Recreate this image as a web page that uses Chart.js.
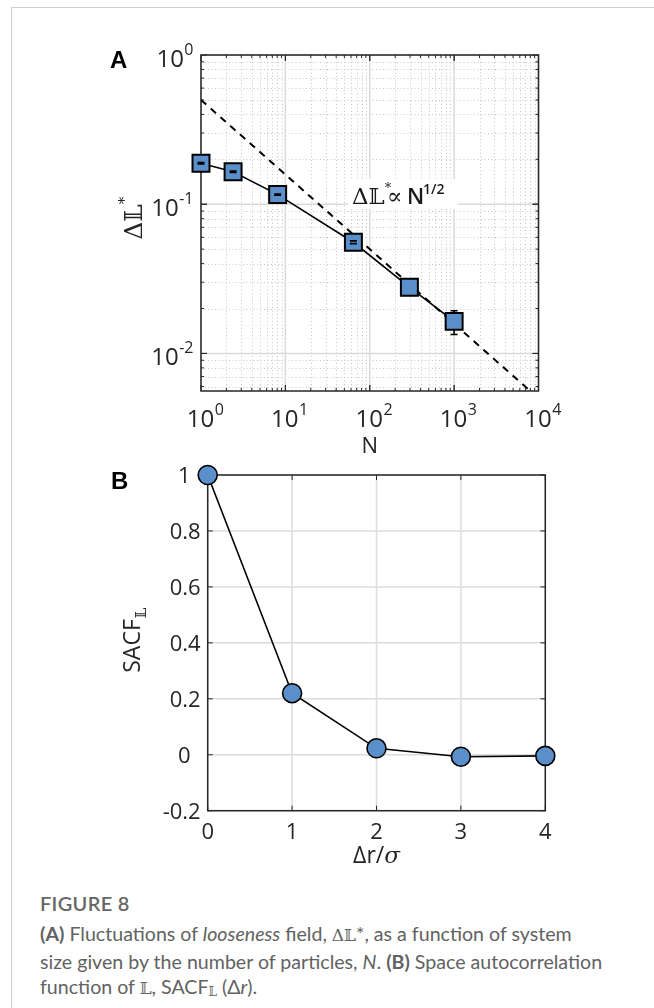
<!DOCTYPE html>
<html>
<head>
<meta charset="utf-8">
<script src="https://cdn.jsdelivr.net/npm/chart.js@4.4.1/dist/chart.umd.min.js"></script>
<style>
  body { margin: 0; background: #fff; width: 654px; height: 1008px; position: relative; overflow: hidden; font-family: "Open Sans", sans-serif; }
  #frame { position: absolute; left: 11px; top: 7px; right: -5px; bottom: -5px; border-top: 1.5px solid #cfcfcf; border-left: 1.5px solid #cfcfcf; }
  canvas { position: absolute; left: 0; }
  #chartA { top: 0; }
  #chartB { top: 460px; }
  .caption { position: absolute; left: 40px; color: #626262; white-space: nowrap; font-family: Lato, "Open Sans", sans-serif; }
  #figTitle { top: 891px; font-size: 20px; line-height: 24px; letter-spacing: 0.3px; font-weight: 600; color: #666; }
  #figText { top: 921px; font-size: 19.6px; line-height: 25.5px; }
  .math { font-family: "DejaVu Serif", serif; font-size: 17px; }
  .sub { font-family: "DejaVu Serif", serif; font-size: 12px; position: relative; top: 2px; }
</style>
</head>
<body>
<div id="frame"></div>
<canvas id="chartA" width="654" height="460"></canvas>
<canvas id="chartB" width="654" height="420"></canvas>
<div class="caption" id="figTitle">FIGURE 8</div>
<div class="caption" id="figText">
  <div><b>(A)</b> Fluctuations of <i>looseness</i> field, <span class="math">Δ𝕃</span>*, as a function of system</div>
  <div>size given by the number of particles, <i>N</i>. <b>(B)</b> Space autocorrelation</div>
  <div>function of <span class="math">𝕃</span>, SACF<span class="sub">𝕃</span> (Δ<i>r</i>).</div>
</div>

<script>
// Panel A: fluctuations vs system size (log-log)
const nValues = [1, 2.4, 8.1, 64, 295, 1000];
const deltaL = [0.188, 0.165, 0.116, 0.0556, 0.0278, 0.0164];
const errLow = [0.186, 0.163, 0.115, 0.0544, 0.0278, 0.0134];
const errHigh = [0.190, 0.167, 0.117, 0.0568, 0.0278, 0.0193];
// guide line  dL ~ N^-1/2
const fitN = [1, 10000];
const fitL = [0.5, 0.005];
const xDecades = [0, 1, 2, 3, 4];
const yDecades = [0, -1, -2];

// Panel B: space autocorrelation
const sepValues = [0, 1, 2, 3, 4];
const sacfValues = [1, 0.22, 0.023, -0.007, -0.004];
const xTicksB = [0, 1, 2, 3, 4];
const yTicksB = [-0.2, 0, 0.2, 0.4, 0.6, 0.8, 1];

const AXIS = "#262626";
const TICK_FONT = "22px 'Open Sans'";
const POW_FONT = "24px 'Open Sans'";
const SUP_FONT = "16px 'Open Sans'";
const LETTER_FONT = "bold 24px Arial, 'Liberation Sans'";
const MARKER = "#5b8fca";

// draws "10" with a raised exponent
function drawPow(ctx, exp, x, base, align) {
  const e = String(exp);
  ctx.font = POW_FONT;
  const w1 = ctx.measureText("10").width;
  ctx.font = SUP_FONT;
  const w2 = ctx.measureText(e).width;
  let start = x;
  if (align === "center") start = x - (w1 + w2) / 2;
  if (align === "right") start = x - (w1 + w2);
  ctx.textAlign = "left";
  ctx.textBaseline = "alphabetic";
  ctx.font = POW_FONT;
  ctx.fillText("10", start, base);
  ctx.font = SUP_FONT;
  ctx.fillText(e, start + w1 + 0.5, base - 12);
}

const panelA = {
  id: "panelA",
  beforeDatasetsDraw(chart) {
    const { ctx, chartArea: a, scales } = chart;
    const xs = scales.x, ys = scales.y;
    ctx.save();
    // minor grid (dotted)
    ctx.strokeStyle = "#c6c6c6";
    ctx.lineWidth = 1;
    ctx.setLineDash([1, 2.5]);
    for (let d = 0; d < 4; d++) {
      for (let m = 2; m <= 9; m++) {
        const px = Math.round(xs.getPixelForValue(m * Math.pow(10, d))) + 0.5;
        ctx.beginPath(); ctx.moveTo(px, a.top); ctx.lineTo(px, a.bottom); ctx.stroke();
      }
    }
    for (let d = -3; d < 0; d++) {
      for (let m = 2; m <= 9; m++) {
        const v = m * Math.pow(10, d);
        if (v <= ys.min || v >= ys.max) continue;
        const py = Math.round(ys.getPixelForValue(v)) + 0.5;
        ctx.beginPath(); ctx.moveTo(a.left, py); ctx.lineTo(a.right, py); ctx.stroke();
      }
    }
    // major grid
    ctx.setLineDash([]);
    ctx.strokeStyle = "#dadada";
    ctx.lineWidth = 1.5;
    xDecades.forEach(e => {
      const px = xs.getPixelForValue(Math.pow(10, e));
      ctx.beginPath(); ctx.moveTo(px, a.top); ctx.lineTo(px, a.bottom); ctx.stroke();
    });
    yDecades.forEach(e => {
      const py = ys.getPixelForValue(Math.pow(10, e));
      ctx.beginPath(); ctx.moveTo(a.left, py); ctx.lineTo(a.right, py); ctx.stroke();
    });
    // annotation with white background
    ctx.fillStyle = "#fff";
    ctx.fillRect(348, 179, 110, 30);
    ctx.fillStyle = "#1a1a1a";
    ctx.textBaseline = "alphabetic";
    ctx.textAlign = "left";
    ctx.font = "23px 'DejaVu Serif'";
    ctx.fillText("Δ𝕃", 352, 204);
    const w = ctx.measureText("Δ𝕃").width;
    ctx.font = "13px 'DejaVu Serif'";
    ctx.fillText("*", 352 + w, 192);
    ctx.font = "23px 'DejaVu Serif'";
    ctx.fillText("∝", 387, 204);
    ctx.font = "600 22px 'Open Sans'";
    ctx.fillText("N", 407, 204);
    ctx.font = "600 14px 'Open Sans'";
    ctx.fillText("1/2", 423, 194);

    // axis box and inward ticks (under the markers)
    ctx.strokeStyle = AXIS;
    ctx.lineWidth = 1.5;
    ctx.strokeRect(a.left, a.top, a.right - a.left, a.bottom - a.top);
    ctx.lineWidth = 1;
    ctx.beginPath();
    for (let d = 0; d < 4; d++) {
      for (let m = 1; m <= 10; m++) {
        const px = xs.getPixelForValue(m * Math.pow(10, d));
        const len = (m === 1 || m === 10) ? 6 : 3;
        ctx.moveTo(px, a.bottom); ctx.lineTo(px, a.bottom - len);
        ctx.moveTo(px, a.top); ctx.lineTo(px, a.top + len);
      }
    }
    for (let d = -3; d < 0; d++) {
      for (let m = 1; m <= 10; m++) {
        const v = m * Math.pow(10, d);
        if (v < ys.min || v > ys.max) continue;
        const py = ys.getPixelForValue(v);
        const len = (m === 1 || m === 10) ? 6 : 3;
        ctx.moveTo(a.left, py); ctx.lineTo(a.left + len, py);
        ctx.moveTo(a.right, py); ctx.lineTo(a.right - len, py);
      }
    }
    ctx.stroke();
    ctx.restore();
  },
  afterDatasetsDraw(chart) {
    const { ctx, scales } = chart;
    const xs = scales.x, ys = scales.y;
    ctx.save();
    ctx.strokeStyle = "#000";
    ctx.lineWidth = 1.6;
    const half = 8.5;
    nValues.forEach((n, i) => {
      if (errLow[i] === errHigh[i]) return;
      const px = xs.getPixelForValue(n);
      const pc = ys.getPixelForValue(deltaL[i]);
      const pl = ys.getPixelForValue(errLow[i]);
      const ph = ys.getPixelForValue(errHigh[i]);
      ctx.beginPath();
      if (ph < pc - half) { ctx.moveTo(px, ph); ctx.lineTo(px, pc - half); }
      if (pl > pc + half) { ctx.moveTo(px, pl); ctx.lineTo(px, pc + half); }
      ctx.moveTo(px - 3.5, ph); ctx.lineTo(px + 3.5, ph);
      ctx.moveTo(px - 3.5, pl); ctx.lineTo(px + 3.5, pl);
      ctx.stroke();
    });
    ctx.restore();
  },
  afterDraw(chart) {
    const { ctx, chartArea: a, scales } = chart;
    const xs = scales.x, ys = scales.y;
    ctx.save();
    // tick labels
    ctx.fillStyle = AXIS;
    xDecades.forEach(e => drawPow(ctx, e, xs.getPixelForValue(Math.pow(10, e)) + 4, a.bottom + 36, "center"));
    yDecades.forEach(e => drawPow(ctx, e, a.left - 8, ys.getPixelForValue(Math.pow(10, e)) + 12, "right"));
    // axis titles
    ctx.font = "22px 'Open Sans'";
    ctx.textAlign = "center";
    ctx.fillText("N", (a.left + a.right) / 2, a.bottom + 62);
    ctx.save();
    ctx.translate(142, 219);
    ctx.rotate(-Math.PI / 2);
    ctx.textAlign = "left";
    ctx.font = "25px 'DejaVu Serif'";
    const wl = ctx.measureText("Δ𝕃").width;
    ctx.fillText("Δ𝕃", -wl / 2 - 3, 0);
    ctx.font = "15px 'DejaVu Serif'";
    ctx.fillText("*", wl / 2 - 3, -13);
    ctx.restore();
    // panel letter
    ctx.font = LETTER_FONT;
    ctx.textAlign = "left";
    ctx.fillStyle = "#000";
    ctx.fillText("A", 110, 68);
    ctx.restore();
  }
};

const panelB = {
  id: "panelB",
  beforeDatasetsDraw(chart) {
    const { ctx, chartArea: a, scales } = chart;
    ctx.save();
    ctx.strokeStyle = "#dcdcdc";
    ctx.lineWidth = 1.5;
    xTicksB.forEach(v => {
      const px = scales.x.getPixelForValue(v);
      ctx.beginPath(); ctx.moveTo(px, a.top); ctx.lineTo(px, a.bottom); ctx.stroke();
    });
    yTicksB.forEach(v => {
      const py = scales.y.getPixelForValue(v);
      ctx.beginPath(); ctx.moveTo(a.left, py); ctx.lineTo(a.right, py); ctx.stroke();
    });
    // box and inward ticks
    ctx.strokeStyle = AXIS;
    ctx.lineWidth = 1.5;
    ctx.strokeRect(a.left, a.top, a.right - a.left, a.bottom - a.top);
    ctx.lineWidth = 1;
    ctx.beginPath();
    xTicksB.forEach(v => {
      const px = scales.x.getPixelForValue(v);
      ctx.moveTo(px, a.bottom); ctx.lineTo(px, a.bottom - 5);
      ctx.moveTo(px, a.top); ctx.lineTo(px, a.top + 5);
    });
    yTicksB.forEach(v => {
      const py = scales.y.getPixelForValue(v);
      ctx.moveTo(a.left, py); ctx.lineTo(a.left + 5, py);
      ctx.moveTo(a.right, py); ctx.lineTo(a.right - 5, py);
    });
    ctx.stroke();
    ctx.restore();
  },
  afterDraw(chart) {
    const { ctx, chartArea: a, scales } = chart;
    ctx.save();
    ctx.fillStyle = AXIS;
    ctx.font = TICK_FONT;
    ctx.textAlign = "right";
    ctx.textBaseline = "alphabetic";
    yTicksB.forEach(v => {
      const label = String(Math.round(v * 10) / 10);
      const shift = label.includes(".") ? 0 : 10;
      ctx.fillText(label, a.left - 7 - shift, scales.y.getPixelForValue(v) + 8);
    });
    ctx.textAlign = "center";
    xTicksB.forEach(v => {
      ctx.fillText(String(v), scales.x.getPixelForValue(v), a.bottom + 28);
    });
    // x title
    ctx.font = "23px 'Open Sans'";
    const t1 = "Δr/";
    ctx.textAlign = "left";
    const w1 = ctx.measureText(t1).width;
    ctx.font = "italic 23px 'DejaVu Serif'";
    const w2 = ctx.measureText("σ").width;
    const sx = (a.left + a.right) / 2 - (w1 + w2) / 2;
    ctx.font = "23px 'Open Sans'";
    ctx.fillText(t1, sx, a.bottom + 52);
    ctx.font = "italic 23px 'DejaVu Serif'";
    ctx.fillText("σ", sx + w1, a.bottom + 52);
    // y title
    ctx.save();
    ctx.translate(140, 180);
    ctx.rotate(-Math.PI / 2);
    ctx.font = "23px 'Open Sans'";
    const ws = ctx.measureText("SACF").width;
    ctx.fillText("SACF", -ws / 2 - 6, 0);
    ctx.font = "15px 'DejaVu Serif'";
    ctx.fillText("𝕃", ws / 2 - 5, 6);
    ctx.restore();
    ctx.font = LETTER_FONT;
    ctx.fillStyle = "#000";
    ctx.fillText("B", 111, 29);
    ctx.restore();
  }
};

function initCharts() {
  const ctxA = document.getElementById("chartA").getContext("2d");
  new Chart(ctxA, {
    type: "line",
    data: {
      datasets: [
        {
          label: "ΔL*",
          data: nValues.map((n, i) => ({ x: n, y: deltaL[i] })),
          borderColor: "#000",
          borderWidth: 1.6,
          pointStyle: "rect",
          pointRadius: 12,
          pointBackgroundColor: MARKER,
          pointBorderColor: "#000",
          pointBorderWidth: 2,
          clip: false,
        },
        {
          label: "N^-1/2",
          data: fitN.map((n, i) => ({ x: n, y: fitL[i] })),
          borderColor: "#000",
          borderWidth: 2,
          borderDash: [7, 6],
          pointRadius: 0,
        },
      ],
    },
    options: {
      responsive: false,
      animation: false,
      events: [],
      layout: { padding: { left: 201, right: 115.5, top: 55, bottom: 69 } },
      scales: {
        x: { type: "logarithmic", min: 1, max: 10000, display: false },
        y: { type: "logarithmic", min: 0.0056, max: 1, display: false },
      },
      plugins: { legend: { display: false }, tooltip: { enabled: false } },
    },
    plugins: [panelA],
  });

  const ctxB = document.getElementById("chartB").getContext("2d");
  new Chart(ctxB, {
    type: "line",
    data: {
      datasets: [
        {
          label: "SACF",
          data: sepValues.map((s, i) => ({ x: s, y: sacfValues[i] })),
          borderColor: "#000",
          borderWidth: 1.6,
          pointRadius: 9.5,
          pointBackgroundColor: MARKER,
          pointBorderColor: "#000",
          pointBorderWidth: 1.6,
          clip: false,
        },
      ],
    },
    options: {
      responsive: false,
      animation: false,
      events: [],
      layout: { padding: { left: 207.7, right: 108.7, top: 15, bottom: 69.3 } },
      scales: {
        x: { type: "linear", min: 0, max: 4, display: false },
        y: { type: "linear", min: -0.2, max: 1, display: false },
      },
      plugins: { legend: { display: false }, tooltip: { enabled: false } },
    },
    plugins: [panelB],
  });
}

initCharts();
</script>
</body>
</html>
